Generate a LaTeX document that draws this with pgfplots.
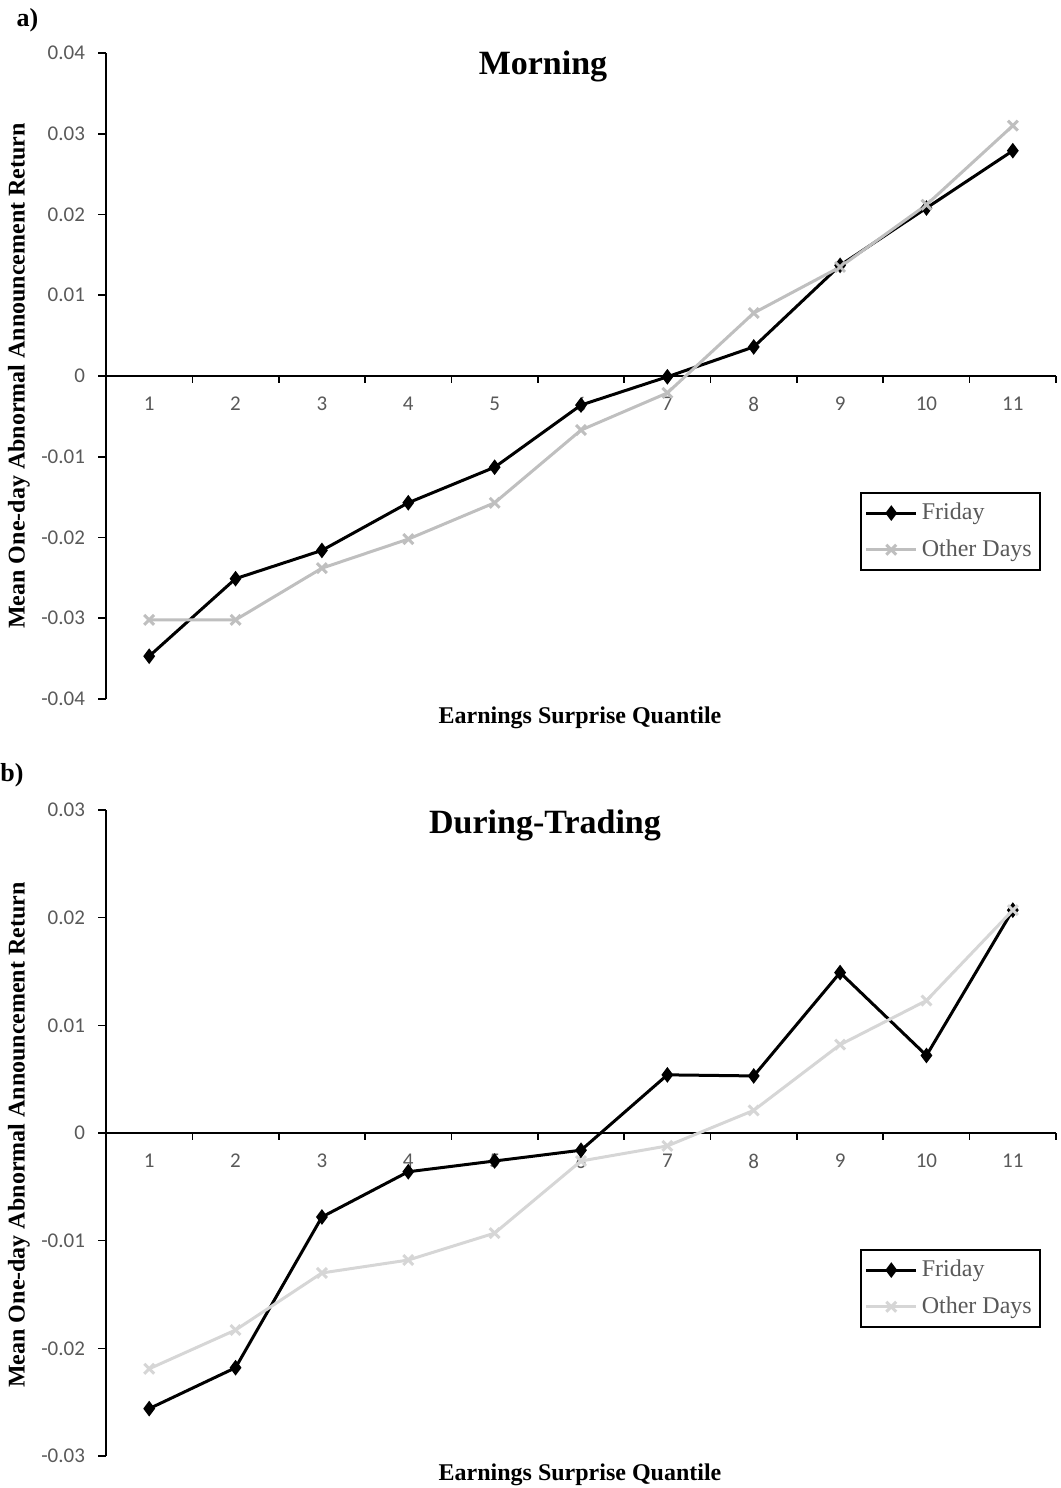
\documentclass[border=0pt]{standalone}
\usepackage{fontspec}
\setmainfont{Liberation Serif}
\newfontfamily\carlito{Carlito}
\usepackage{pgfplots}
\pgfplotsset{compat=1.18}
\definecolor{tickgray}{HTML}{595959}
\definecolor{lgA}{HTML}{BFBFBF}
\definecolor{lgB}{HTML}{D6D6D6}
\pgfplotsset{
  panel/.style={
    scale only axis, width=475pt, height=323pt,
    anchor=south west,
    xmin=0.5, xmax=11.5,
    axis x line*=middle, axis y line*=left,
    hide obscured x ticks=false, hide obscured y ticks=false,
    scaled y ticks=false, scaled x ticks=false,
    axis line style={black, line width=0.8pt},
    xtick={1,2,3,4,5,6,7,8,9,10,11},
    xticklabels={1,2,3,4,5,6,7,8,9,10,11},
    minor xtick={1.5,2.5,3.5,4.5,5.5,6.5,7.5,8.5,9.5,10.5,11.5},
    major x tick style={draw=none},
    minor x tick style={black, line width=0.8pt},
    minor tick length=3.5pt,
    major tick length=4pt,
    tick align=outside,
    y tick style={black, line width=0.8pt},
    tick label style={font=\carlito\fontsize{10.5}{12}\selectfont, text=tickgray},
    x tick label style={yshift=-3pt},
    y tick label style={xshift=-3pt},
    legend style={at={(0.984,0.32)}, anchor=north east, draw=black, line width=1pt,
      font=\fontsize{12}{14}\selectfont, text=tickgray, inner xsep=2pt, inner ysep=3pt,
      row sep=4.5pt},
    legend cell align=left,
    legend image code/.code={\draw[mark repeat=2,mark phase=2,##1] plot coordinates {(0cm,0cm)(0.44cm,0cm)(0.88cm,0cm)};},
    clip=false,
  },
  fri/.style={black, line width=1.5pt, mark=diamond*, mark size=2.7pt, mark options={solid}},
  oth/.style={line width=1.5pt, mark=x, mark size=3.5pt, mark options={solid}},
}
\begin{document}
\begin{tikzpicture}
\path[use as bounding box] (0,0) rectangle (530pt,744pt);
% Panel a
\begin{axis}[panel, at={(53pt,394.5pt)},
  ymin=-0.04, ymax=0.04,
  ytick={-0.04,-0.03,-0.02,-0.01,0,0.01,0.02,0.03,0.04},
  yticklabels={-0.04,-0.03,-0.02,-0.01,0,0.01,0.02,0.03,0.04}]
\addplot[fri] coordinates {(1,-0.0347) (2,-0.0251) (3,-0.0216) (4,-0.0157) (5,-0.0113) (6,-0.0036) (7,-0.0001) (8,0.0036) (9,0.0137) (10,0.0208) (11,0.0279)};
\addlegendentry{Friday}
\addplot[oth, lgA] coordinates {(1,-0.0302) (2,-0.0302) (3,-0.0238) (4,-0.0202) (5,-0.0157) (6,-0.0067) (7,-0.0021) (8,0.0078) (9,0.0135) (10,0.0212) (11,0.0310)};
\addlegendentry{Other Days}
\end{axis}
% Panel b
\begin{axis}[panel, at={(53pt,16pt)},
  ymin=-0.03, ymax=0.03,
  ytick={-0.03,-0.02,-0.01,0,0.01,0.02,0.03},
  yticklabels={-0.03,-0.02,-0.01,0,0.01,0.02,0.03}]
\addplot[fri] coordinates {(1,-0.0256) (2,-0.0218) (3,-0.0078) (4,-0.0036) (5,-0.0026) (6,-0.0016) (7,0.0054) (8,0.0053) (9,0.0149) (10,0.0072) (11,0.0207)};
\addlegendentry{Friday}
\addplot[oth, lgB] coordinates {(1,-0.0219) (2,-0.0183) (3,-0.0130) (4,-0.0118) (5,-0.0093) (6,-0.0026) (7,-0.0012) (8,0.0021) (9,0.0082) (10,0.0123) (11,0.0207)};
\addlegendentry{Other Days}
\end{axis}
\node[font=\bfseries\fontsize{13}{15}\selectfont] at (13.75pt,734pt) {a)};
\node[font=\bfseries\fontsize{13}{15}\selectfont] at (6pt,356.5pt) {b)};
\node[font=\bfseries\fontsize{17}{20}\selectfont] at (271.5pt,711pt) {Morning};
\node[font=\bfseries\fontsize{17}{20}\selectfont] at (272.5pt,331.5pt) {During-Trading};
\node[font=\bfseries\fontsize{12}{14}\selectfont] at (290pt,385pt) {Earnings Surprise Quantile};
\node[font=\bfseries\fontsize{12}{14}\selectfont] at (290pt,6.5pt) {Earnings Surprise Quantile};
\node[rotate=90, font=\bfseries\fontsize{12}{14}\selectfont] at (9.5pt,556pt) {Mean One-day Abnormal Announcement Return};
\node[rotate=90, font=\bfseries\fontsize{12}{14}\selectfont] at (9.5pt,176.5pt) {Mean One-day Abnormal Announcement Return};
\end{tikzpicture}
\end{document}
